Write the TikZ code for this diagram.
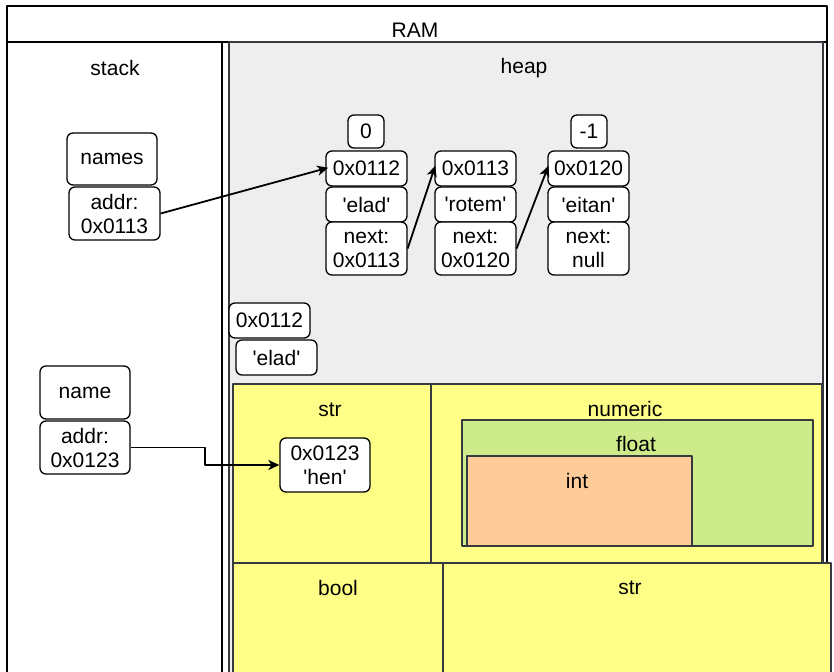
\documentclass[tikz,border=0pt]{standalone}
\usepackage{fontspec}
\newfontfamily\drawfont{Liberation Sans}
\usetikzlibrary{calc,arrows.meta}
\definecolor{dgray}{HTML}{36393D}
\definecolor{heapgray}{HTML}{EEEEEE}
\definecolor{boxyellow}{HTML}{FFFF88}
\definecolor{boxgreen}{HTML}{CDEB8B}
\definecolor{boxorange}{HTML}{FFCC99}
\newcommand{\sq}[1]{\textquotesingle#1\textquotesingle}
\begin{document}
\begin{tikzpicture}[x=1pt,y=-1pt,line width=1.3pt,line join=round,>={Stealth[length=11pt,width=10pt,inset=3pt]},
	font=\drawfont\fontsize{21}{24}\selectfont,
	cell/.style={draw,rounded corners=6pt,fill=white,align=center,inner sep=0pt,minimum width=81pt,minimum height=35pt},
	region/.style={draw=dgray,fill=#1},
	link/.style={->,line width=1.8pt,shorten >=-3pt}]
	\clip (0,0) rectangle (834,671);
	%% RAM, stack, heap
	\draw (7,690)--(7,6)--(827,6)--(827,690) (7,42)--(827,42);
	\draw (7,42) rectangle (222,690);
	\draw[region=heapgray] (229,42) rectangle (823,690);
	\draw[region=boxyellow] (233,384) rectangle (431,563);
	\draw[region=boxyellow] (431,384) rectangle (822,563);
	\draw[region=boxgreen] (462,420) rectangle (813,546);
	\draw[region=boxorange] (467,456) rectangle (692,546);
	\draw[region=boxyellow] (233,563) rectangle (443,690);
	\draw[region=boxyellow] (443,563) rectangle (831,690);
	%% nhan
	\foreach \n/\x/\y/\t in {ram/415/30/RAM,stack/115/68/stack,heap/524/68/heap,strA/330/410/str,
		numeric/625/409/numeric,float/636/444/float,int/577/481/int,bool/338/588/bool,strB/630/588/str}
	\node (lbl\n) at (\x,\y) {\t};
	%% stack
	\node[cell,minimum width=90pt,minimum height=52pt] (varNames) at (112,159) {names};
	\node[cell,minimum width=91pt,minimum height=53pt] (ptrNames) at (114.5,213.5) {addr:\\0x0113};
	\node[cell,minimum width=90pt,minimum height=53pt] (varName) at (85,392.5) {name};
	\node[cell,minimum width=90pt,minimum height=53pt] (ptrName) at (85,447.5) {addr:\\0x0123};
	%% heap
	\foreach \c/\x/\ad/\v/\nx in {A/366.5/0x0112/elad/0x0113,B/475.5/0x0113/rotem/0x0120,C/588.5/0x0120/eitan/null}{
		\node[cell] (addr\c) at (\x,168.5) {\ad};
		\node[cell] (val\c) at (\x,204.5) {\sq{\v}};
		\node[cell,minimum height=53pt] (next\c) at (\x,248.5) {next:\\\nx};
	}
	\node[cell,minimum width=36pt,minimum height=33pt] (idxA) at (366,131.5) {0};
	\node[cell,minimum width=36pt,minimum height=33pt] (idxC) at (589,131.5) {-1};
	\node[cell] (loneAddr) at (269.5,320.5) {0x0112};
	\node[cell] (loneVal) at (276.5,357.5) {\sq{elad}};
	\node[cell,minimum width=90pt,minimum height=54pt] (hen) at (325,465) {0x0123\\\sq{hen}};
	%% mui ten
	\draw[link] (ptrNames.east)--(addrA.west);
	\foreach \a/\b in {A/B,B/C}
	\draw[link] (next\a.east)--(addr\b.west);
	\coordinate (bend) at ($(ptrName.east)!.5!(hen.west)$);
	\draw[link,shorten >=0pt] (ptrName.east) -| (bend) |- (hen.west);
\end{tikzpicture}
\end{document}
